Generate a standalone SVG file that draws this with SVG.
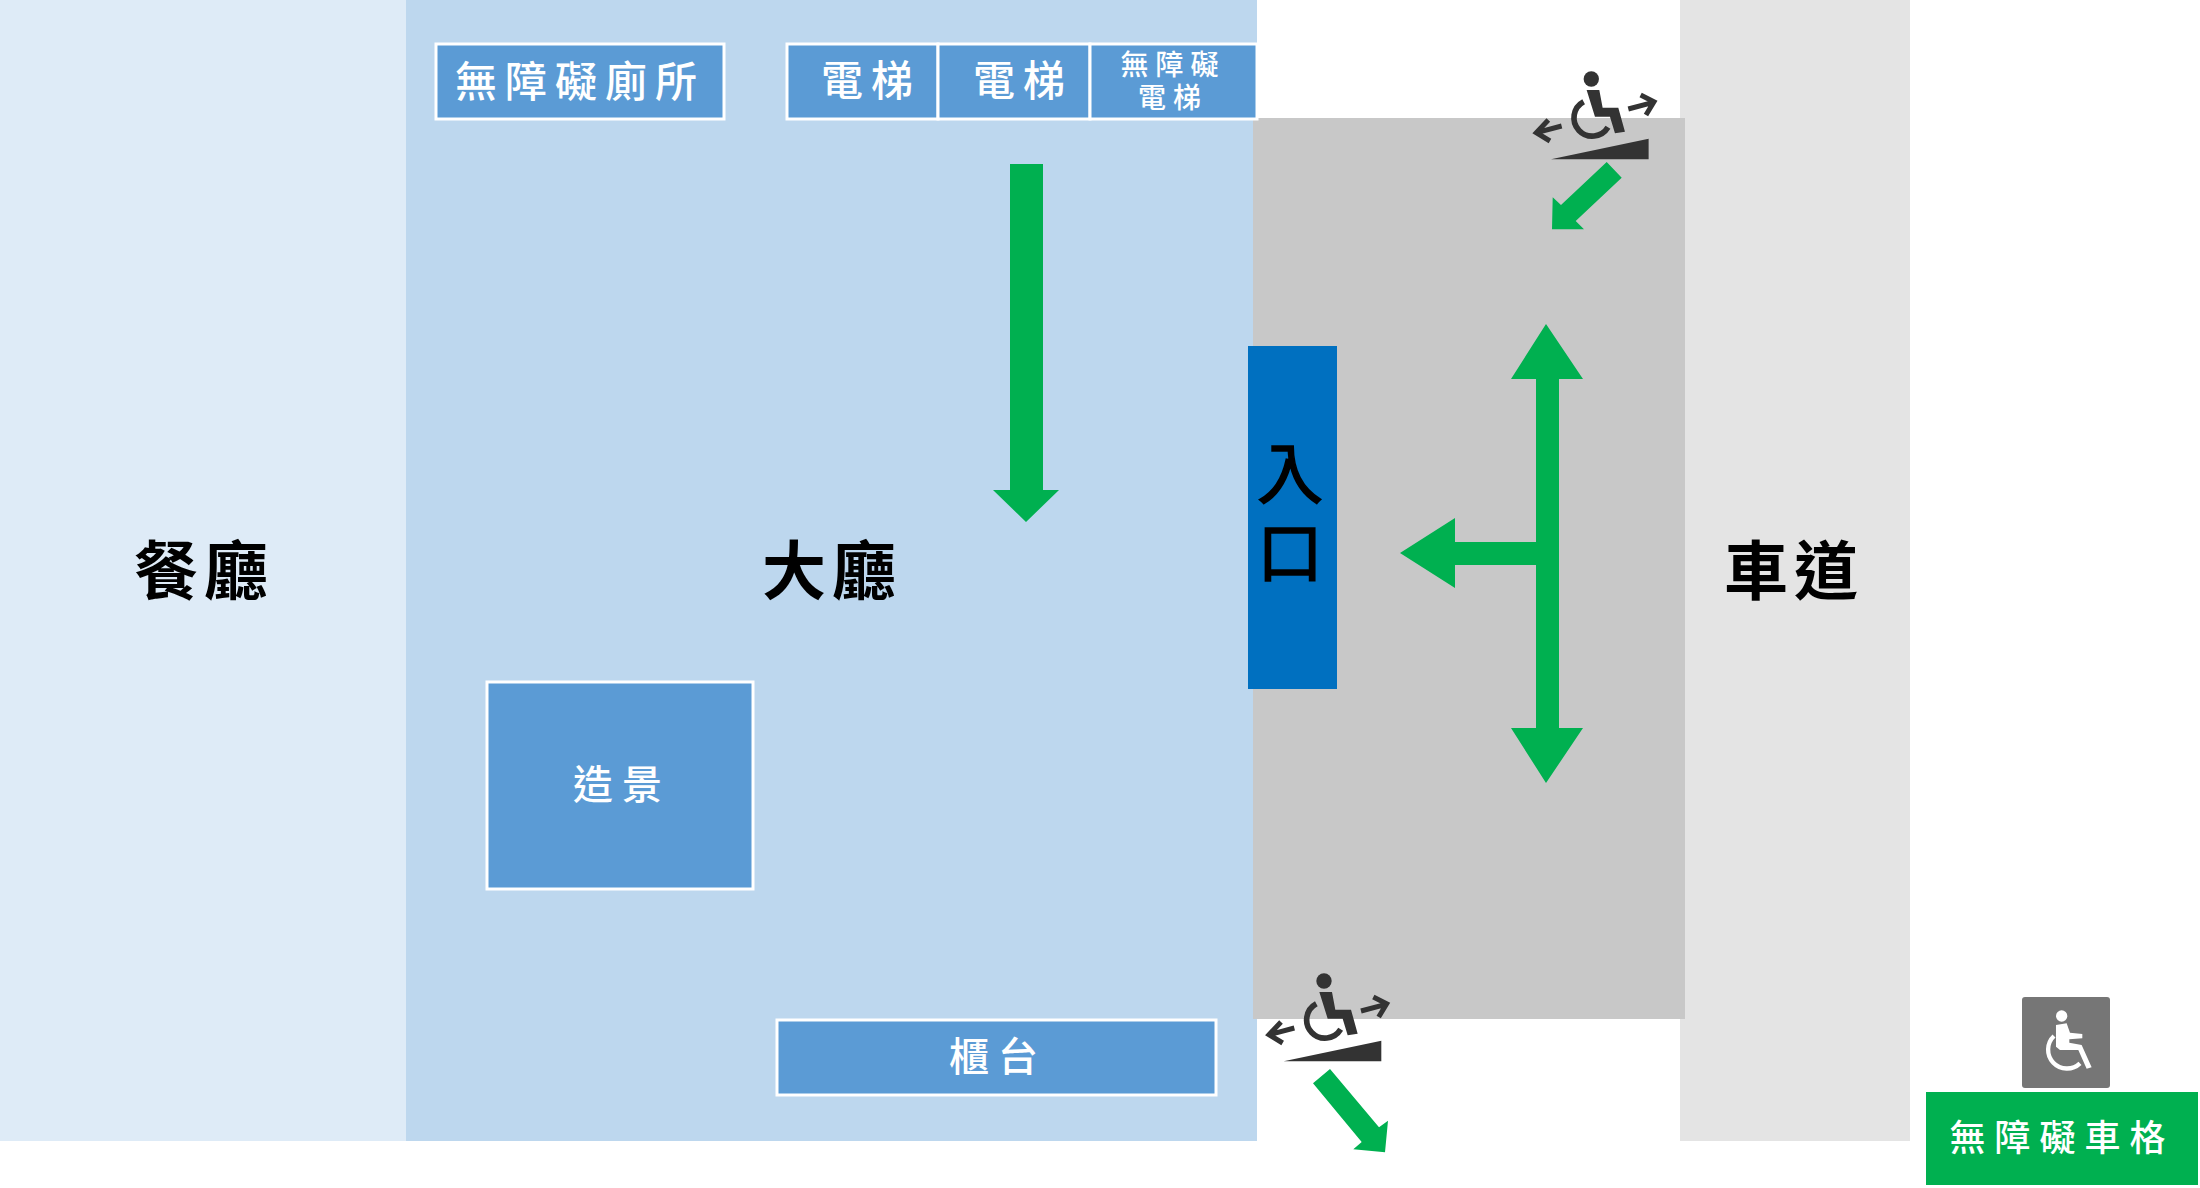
<svg xmlns="http://www.w3.org/2000/svg" width="2200" height="1188" viewBox="0 0 2200 1188">
<style>
text{font-family:"Noto Sans CJK TC","Noto Sans CJK SC",sans-serif;text-anchor:middle;dominant-baseline:central}
.big{font-size:64px;font-weight:700;letter-spacing:6px;fill:#000}
.w{fill:#fff;font-weight:500}
.box{fill:#5B9BD5;stroke:#fff;stroke-width:3}
.g{fill:#00B050}
.i{fill:none;stroke:#333;stroke-width:15}
</style>
<defs>
<g id="chair">
<circle cx="0" cy="0" r="23" fill="#333"/>
<path d="M-14 33H24L34 86H81L101 158L71 163L56 113H11Z" fill="#333"/>
<path d="M-23 68A55 55 0 1 0 50 145" fill="none" stroke="#333" stroke-width="17"/>
<path d="M-89 141L-164 161M-129 123L-165 161L-124 186" class="i"/>
<path d="M111 90L186 70M148 48L188 68L164 108" class="i"/>
<path d="M-121 241H172V179Z" fill="#333"/>
</g>
</defs>
<g id="restaurant"><rect x="0" y="0" width="406" height="1141" fill="#DEEBF7"/><text class="big" x="204" y="566">餐廳</text></g>
<g id="lobby"><rect x="406" y="0" width="851" height="1141" fill="#BDD7EE"/><text class="big" x="832" y="566">大廳</text></g>
<g id="road"><rect x="1680" y="0" width="230" height="1141" fill="#E4E4E4"/><text class="big" x="1794" y="566">車道</text></g>
<g id="walkway"><rect x="1253" y="118" width="432" height="901" fill="#C8C8C8"/></g>
<g id="entrance"><rect x="1248" y="346" width="89" height="343" fill="#0070C0"/>
<text x="1290" y="519" font-size="66" letter-spacing="13" fill="#000" stroke="#000" stroke-width="1.5" style="writing-mode:vertical-rl;dominant-baseline:auto">入口</text></g>
<g id="restroom"><rect class="box" x="436" y="44" width="288" height="75"/><text class="w" x="580" y="78" font-size="42" letter-spacing="8">無障礙廁所</text></g>
<g id="lift1"><rect class="box" x="787" y="44" width="151" height="75"/><text class="w" x="871" y="77" font-size="42" letter-spacing="8">電梯</text></g>
<g id="lift2"><rect class="box" x="938" y="44" width="152" height="75"/><text class="w" x="1023" y="77" font-size="42" letter-spacing="8">電梯</text></g>
<g id="lift3"><rect class="box" x="1090" y="44" width="167" height="75"/><text class="w" font-size="28" letter-spacing="7"><tspan x="1173" y="63">無障礙</tspan><tspan x="1173" y="96">電梯</tspan></text></g>
<g id="scenery"><rect class="box" x="487" y="682" width="266" height="207"/><text class="w" x="622" y="782" font-size="40" letter-spacing="9">造景</text></g>
<g id="counter"><rect class="box" x="777" y="1020" width="439" height="75"/><text class="w" x="998" y="1054" font-size="40" letter-spacing="9">櫃台</text></g>
<g id="ramp1" transform="translate(1591.3 79) scale(.3333)"><use href="#chair"/></g>
<g id="ramp2" transform="translate(1324 981) scale(.3333)"><use href="#chair"/></g>
<g id="accessible-icon"><rect x="2022" y="997" width="88" height="91" rx="3" fill="#767676"/>
<g transform="translate(1900 980) scale(.3333)"><circle cx="485" cy="108" r="17" fill="#fff"/>
<path d="M468 135L500 130L510 158L547 162V175L508 178V188L545 195L575 262L560 266L535 210H480L468 200Z" fill="#fff"/>
<path d="M462 168A52 52 0 1 0 540 250" fill="none" stroke="#fff" stroke-width="13"/></g></g>
<g id="accessible-parking"><rect x="1926" y="1092" width="272" height="93" class="g"/><text class="w" x="2062" y="1135" font-size="36" letter-spacing="9">無障礙車格</text></g>
<g id="connectors" class="g">
<path d="M1010 164H1043V490H1059L1026 522L993 490H1010Z"/>
<path d="M1546 324L1583 379H1559V728H1583L1546 783L1511 728H1536V565H1455V588L1400 553L1455 518V542H1536V379H1511Z"/>
<path d="M1606.7 162L1621.7 177.7L1575.7 221L1584 229.3H1552L1552.7 197.3L1561 205Z"/>
<path d="M1330 1069L1313 1083.3L1361.7 1142L1353.3 1149.3L1385 1152.3L1388 1120.7L1379 1127.3Z"/>
</g>
</svg>
